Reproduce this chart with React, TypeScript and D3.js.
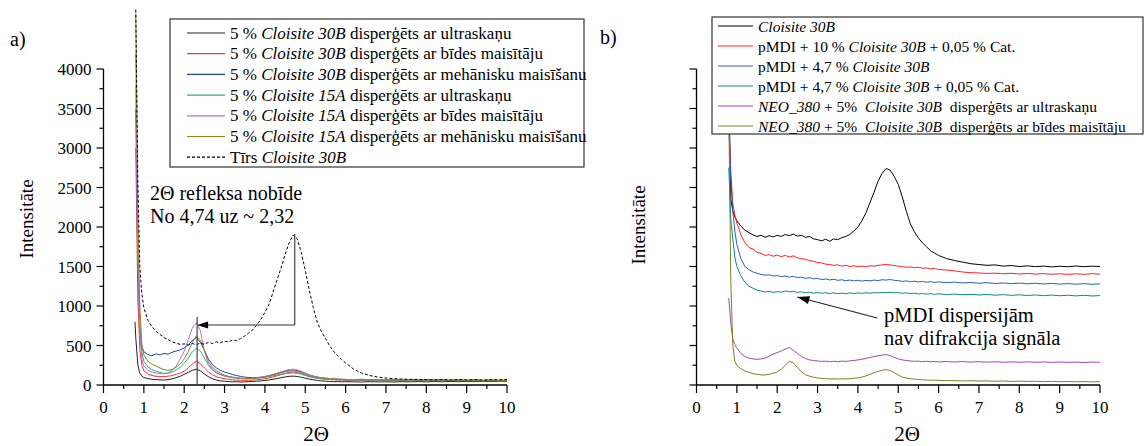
import * as d3 from "d3";

// shared 2Θ grid for every measured curve
const X_GRID = [0.78, 0.8, 0.85, 0.9, 0.95,
  1.0, 1.1, 1.2, 1.3, 1.4, 1.5, 1.6, 1.7, 1.8, 1.9,
  2.0, 2.1, 2.2, 2.3, 2.4, 2.5, 2.6, 2.7, 2.8, 2.9,
  3.0, 3.1, 3.2, 3.3, 3.4, 3.5, 3.6, 3.7, 3.8, 3.9,
  4.0, 4.1, 4.2, 4.3, 4.4, 4.5, 4.6, 4.7, 4.8, 4.9,
  5.0, 5.1, 5.2, 5.3, 5.4, 5.5, 5.6, 5.7, 5.8, 5.9,
  6.0, 6.2, 6.4, 6.6, 6.8, 7.0, 7.2, 7.4, 7.6, 7.8,
  8.0, 8.2, 8.4, 8.6, 8.8, 9.0, 9.2, 9.4, 9.6, 9.8, 10.0];

// a) panel
const A_30B_ULTRA = [800, 600, 260, 150, 115,
  95, 80, 72, 68, 65, 62, 68, 78, 92, 110,
  135, 160, 185, 200, 180, 140, 105, 80, 62, 52,
  48, 44, 40, 42, 38, 40, 42, 45, 48, 52,
  58, 64, 72, 82, 92, 102, 110, 112, 108, 98,
  86, 75, 66, 58, 52, 48, 45, 42, 44, 40,
  42, 40, 38, 42, 39, 41, 38, 42, 40, 43,
  40, 44, 41, 45, 42, 46, 43, 47, 44, 48, 45];
const A_30B_SHEAR = [null, 3000, 1100, 450, 250,
  180, 140, 120, 110, 108, 105, 112, 118, 135, 150,
  175, 215, 265, 300, 270, 215, 165, 130, 105, 90,
  80, 72, 66, 62, 60, 58, 60, 62, 66, 72,
  80, 90, 102, 116, 130, 145, 158, 165, 160, 145,
  125, 108, 95, 85, 78, 72, 68, 66, 64, 62,
  60, 62, 58, 61, 57, 60, 56, 59, 55, 58,
  55, 58, 54, 57, 53, 56, 52, 55, 51, 54, 50];
const A_30B_MECH = [null, 3500, 1500, 700, 480,
  420, 385, 370, 395, 380, 400, 390, 415, 430, 445,
  470, 510, 560, 600, 540, 440, 330, 260, 215, 185,
  165, 148, 132, 120, 108, 100, 95, 92, 95, 100,
  108, 118, 130, 145, 160, 175, 188, 192, 185, 168,
  148, 128, 112, 100, 92, 86, 82, 78, 75, 72,
  70, 68, 72, 66, 70, 65, 68, 63, 67, 62,
  66, 61, 65, 60, 64, 59, 63, 58, 62, 58, 61];
const A_15A_ULTRA = [null, 4200, 1800, 800, 420,
  300, 230, 195, 175, 160, 148, 150, 165, 190, 225,
  275, 340, 420, 465, 430, 340, 250, 190, 150, 128,
  112, 100, 92, 85, 80, 78, 78, 80, 84, 90,
  97, 106, 116, 126, 136, 144, 150, 152, 148, 136,
  120, 105, 94, 86, 80, 75, 72, 69, 67, 65,
  64, 62, 65, 60, 63, 59, 62, 58, 61, 57,
  60, 57, 60, 56, 59, 55, 58, 55, 58, 54, 57];
const A_15A_SHEAR = [null, 3800, 1600, 650, 330,
  240, 185, 165, 152, 145, 142, 150, 185, 240, 330,
  430, 570, 720, 790, 690, 430, 270, 200, 160, 135,
  118, 105, 96, 90, 85, 82, 82, 85, 90, 98,
  108, 120, 134, 150, 166, 182, 195, 200, 192, 174,
  152, 130, 114, 102, 93, 86, 81, 77, 74, 72,
  70, 68, 71, 66, 69, 64, 67, 63, 66, 62,
  65, 61, 64, 60, 63, 59, 62, 58, 61, 57, 60];
const A_15A_MECH = [null, 4700, 2200, 1000, 520,
  380, 300, 265, 240, 215, 195, 185, 195, 225, 265,
  330, 420, 540, 620, 570, 440, 300, 225, 180, 148,
  126, 110, 100, 92, 86, 82, 82, 84, 88, 95,
  104, 114, 126, 140, 154, 166, 175, 178, 172, 158,
  138, 120, 106, 96, 88, 82, 78, 75, 72, 70,
  68, 66, 69, 64, 67, 62, 65, 61, 64, 60,
  63, 59, 62, 58, 61, 57, 60, 56, 59, 55, 58];
const A_PURE_30B = [null, 4750, 2600, 1500, 1150,
  980, 820, 740, 680, 640, 600, 575, 545, 530, 515,
  520, 505, 525, 510, 530, 515, 540, 525, 545, 535,
  555, 545, 570, 560, 590, 620, 660, 700, 760, 830,
  920, 1020, 1170, 1330, 1480, 1650, 1800, 1900, 1850, 1680,
  1450, 1200, 980, 790, 680, 590, 500, 430, 370, 320,
  280, 200, 150, 120, 100, 88, 80, 75, 72, 70,
  68, 66, 70, 64, 68, 65, 70, 63, 68, 66, 70];

const A_SERIES = [A_30B_ULTRA, A_30B_SHEAR, A_30B_MECH, A_15A_ULTRA, A_15A_SHEAR, A_15A_MECH, A_PURE_30B];
const A_COLORS = ["#222222", "#ff3030", "#1a44b0", "#35a89a", "#c070cc", "#8a8a22", "#000000"];
const A_DASHED = [false, false, false, false, false, false, true];
const A_LABELS = [
  [["5 % ", false], ["Cloisite 30B", true], [" disperģēts ar ultraskaņu", false]],
  [["5 % ", false], ["Cloisite 30B", true], [" disperģēts ar bīdes maisītāju", false]],
  [["5 % ", false], ["Cloisite 30B", true], [" disperģēts ar mehānisku maisīšanu", false]],
  [["5 % ", false], ["Cloisite 15A", true], [" disperģēts ar ultraskaņu", false]],
  [["5 % ", false], ["Cloisite 15A", true], [" disperģēts ar bīdes maisītāju", false]],
  [["5 % ", false], ["Cloisite 15A", true], [" disperģēts ar mehānisku maisīšanu", false]],
  [["Tīrs ", false], ["Cloisite 30B", true]],
];

// b) panel
const B_30B = [null, 3800, 2350, 2200, 2130,
  2080, 2010, 1960, 1930, 1900, 1880, 1895, 1870, 1890, 1875,
  1895, 1880, 1905, 1890, 1910, 1885, 1895, 1870, 1880, 1850,
  1840, 1825, 1845, 1820, 1850, 1840, 1865, 1880, 1905, 1950,
  2000, 2080, 2180, 2310, 2440, 2580, 2680, 2740, 2720, 2640,
  2540, 2380, 2200, 2040, 1940, 1860, 1800, 1750, 1700, 1670,
  1640, 1600, 1575, 1555, 1535, 1525, 1515, 1520, 1505, 1512,
  1500, 1508, 1498, 1505, 1495, 1503, 1497, 1506, 1498, 1504, 1500];
const B_PMDI_10 = [null, 3400, 2700, 2300, 2150,
  2050, 1900, 1800, 1740, 1720, 1680, 1665, 1640, 1650, 1630,
  1645, 1625, 1640, 1620, 1635, 1610, 1600, 1590, 1575, 1565,
  1550, 1545, 1530, 1525, 1515, 1520, 1505, 1515, 1500, 1510,
  1498, 1505, 1495, 1510, 1505, 1515, 1520, 1525, 1520, 1512,
  1505, 1500, 1490, 1495, 1485, 1490, 1478, 1482, 1470, 1475,
  1462, 1455, 1445, 1430, 1422, 1418, 1412, 1416, 1408, 1414,
  1405, 1412, 1404, 1410, 1402, 1408, 1400, 1407, 1401, 1409, 1404];
const B_PMDI_47 = [null, 3300, 2600, 2200, 1950,
  1780, 1600, 1500, 1460, 1430, 1415, 1400, 1390, 1395, 1380,
  1385, 1372, 1380, 1365, 1375, 1360, 1365, 1350, 1358, 1345,
  1350, 1335, 1342, 1330, 1338, 1325, 1332, 1320, 1328, 1318,
  1326, 1315, 1324, 1318, 1328, 1322, 1332, 1328, 1335, 1325,
  1320, 1312, 1318, 1308, 1314, 1305, 1310, 1302, 1308, 1298,
  1305, 1296, 1302, 1292, 1298, 1288, 1295, 1285, 1292, 1283,
  1290, 1281, 1288, 1279, 1286, 1277, 1284, 1276, 1283, 1275, 1280];
const B_PMDI_47_CAT = [null, 2750, 2100, 1850, 1620,
  1500, 1380, 1300, 1250, 1225, 1200, 1190, 1178, 1185, 1172,
  1182, 1175, 1190, 1180, 1186, 1172, 1180, 1168, 1176, 1162,
  1172, 1160, 1168, 1158, 1166, 1155, 1164, 1156, 1165, 1158,
  1166, 1160, 1168, 1162, 1170, 1165, 1172, 1168, 1174, 1166,
  1170, 1160, 1166, 1156, 1162, 1152, 1158, 1150, 1156, 1147,
  1154, 1145, 1151, 1142, 1148, 1139, 1146, 1137, 1144, 1135,
  1142, 1133, 1140, 1131, 1138, 1130, 1136, 1128, 1135, 1127, 1132];
const B_NEO_ULTRA = [null, 1100, 780, 580, 510,
  470, 400, 360, 340, 330, 325, 330, 340, 365, 390,
  410, 430, 455, 475, 440, 400, 360, 335, 318, 310,
  305, 298, 302, 295, 300, 294, 302, 298, 306, 310,
  318, 326, 338, 348, 360, 370, 378, 385, 372, 350,
  330, 318, 310, 305, 300, 302, 296, 300, 294, 298,
  292, 297, 291, 296, 290, 295, 289, 294, 288, 293,
  288, 293, 287, 292, 286, 291, 286, 290, 285, 290, 288];
const B_NEO_SHEAR = [null, 3500, 1300, 500, 300,
  250, 205, 178, 160, 145, 135, 128, 127, 135, 150,
  165, 200, 250, 300, 280, 220, 170, 130, 112, 98,
  90, 84, 80, 76, 78, 74, 80, 76, 80, 84,
  90, 100, 115, 135, 155, 172, 186, 195, 182, 158,
  125, 100, 88, 80, 74, 70, 66, 63, 60, 62,
  58, 56, 55, 52, 54, 50, 52, 48, 50, 46,
  48, 45, 47, 43, 46, 42, 44, 41, 43, 40, 42];

const B_SERIES = [B_30B, B_PMDI_10, B_PMDI_47, B_PMDI_47_CAT, B_NEO_ULTRA, B_NEO_SHEAR];
const B_COLORS = ["#000000", "#ff2020", "#2a5cc8", "#0a8a82", "#a048b0", "#7f8024"];
const B_DASHED = [false, false, false, false, false, false];
const B_LABELS = [
  [["Cloisite 30B", true]],
  [["pMDI + 10 % ", false], ["Cloisite 30B", true], [" + 0,05 % Cat.", false]],
  [["pMDI + 4,7 % ", false], ["Cloisite 30B", true]],
  [["pMDI + 4,7 % ", false], ["Cloisite 30B", true], [" + 0,05 % Cat.", false]],
  [["NEO_380", true], [" + 5%  ", false], ["Cloisite 30B", true], ["  disperģēts ar ultraskaņu", false]],
  [["NEO_380", true], [" + 5%  ", false], ["Cloisite 30B", true], ["  disperģēts ar bīdes maisītāju", false]],
];

const X_TICKS = [0, 1, 2, 3, 4, 5, 6, 7, 8, 9, 10];
const X_MINOR = [0.5, 1.5, 2.5, 3.5, 4.5, 5.5, 6.5, 7.5, 8.5, 9.5];
const Y_TICKS = [0, 500, 1000, 1500, 2000, 2500, 3000, 3500, 4000];
const Y_MINOR = [250, 750, 1250, 1750, 2250, 2750, 3250, 3750];

const FONT = "Liberation Serif, DejaVu Serif, serif";
const TXT = { fontFamily: FONT };

function Label({ segs }) {
  return (
    <>
      {segs.map((s, i) => (
        <tspan key={i} style={{ fontStyle: s[1] ? "italic" : "normal" }}>{s[0]}</tspan>
      ))}
    </>
  );
}

function arrowHead(x1, y1, x2, y2, len = 11, half = 4) {
  const dx = x2 - x1, dy = y2 - y1;
  const d = Math.sqrt(dx * dx + dy * dy);
  const ux = dx / d, uy = dy / d;
  const bx = x2 - ux * len, by = y2 - uy * len;
  return `${x2},${y2} ${bx - uy * half},${by + ux * half} ${bx + uy * half},${by - ux * half}`;
}

function Panel({ left, right, series, colors, dashed, showYLabels }) {
  const x = d3.scaleLinear().domain([0, 10]).range([left, right]);
  const y = d3.scaleLinear().domain([0, 4000]).range([385, 69]);
  const line = d3.line()
    .defined((d) => d[1] != null)
    .x((d) => x(d[0]))
    .y((d) => y(d[1]));

  return (
    <g>
      {series.map((s, i) => (
        <path key={i}
          d={line(X_GRID.map((g, j) => [g, s[j]]))}
          fill="none"
          stroke={colors[i]}
          strokeWidth={1}
          strokeDasharray={dashed[i] ? "3,2" : null}
          strokeLinejoin="round" />
      ))}
      {/* axes */}
      <line x1={x(0)} x2={x(10)} y1={y(0)} y2={y(0)} stroke="#000" strokeWidth={1.3} />
      <line x1={x(0)} x2={x(0)} y1={y(0)} y2={y(4000)} stroke="#000" strokeWidth={1.3} />
      {X_TICKS.map((t) => (
        <g key={"x" + t}>
          <line x1={x(t)} x2={x(t)} y1={y(0)} y2={y(0) + 8} stroke="#000" strokeWidth={1.2} />
          <text x={x(t)} y={413} textAnchor="middle" fontSize={17} style={TXT}>{t}</text>
        </g>
      ))}
      {X_MINOR.map((t) => (
        <line key={"xm" + t} x1={x(t)} x2={x(t)} y1={y(0)} y2={y(0) + 4} stroke="#000" strokeWidth={1.2} />
      ))}
      {Y_TICKS.map((t) => (
        <g key={"y" + t}>
          <line x1={x(0) - 7} x2={x(0)} y1={y(t)} y2={y(t)} stroke="#000" strokeWidth={1.2} />
          {showYLabels && (
            <text x={x(0) - 12} y={y(t) + 6} textAnchor="end" fontSize={17} style={TXT}>{t}</text>
          )}
        </g>
      ))}
      {Y_MINOR.map((t) => (
        <line key={"ym" + t} x1={x(0) - 4} x2={x(0)} y1={y(t)} y2={y(t)} stroke="#000" strokeWidth={1.2} />
      ))}
    </g>
  );
}

function Legend({ x0, y0, w, h, rowY, step, lineX1, lineX2, textX, labels, colors, dashed, fontSize }) {
  return (
    <g>
      <rect x={x0} y={y0} width={w} height={h} fill="#fff" stroke="#333" strokeWidth={1.2} />
      {labels.map((l, i) => {
        const cy = rowY + i * step;
        return (
          <g key={i}>
            <line x1={lineX1} x2={lineX2} y1={cy} y2={cy} stroke={colors[i]} strokeWidth={1.2}
              strokeDasharray={dashed[i] ? "3,2" : null} />
            <text x={textX} y={cy + 5.5} fontSize={fontSize} xmlSpace="preserve"
              style={{ ...TXT, whiteSpace: "pre" }}>
              <Label segs={l} />
            </text>
          </g>
        );
      })}
    </g>
  );
}

export default function App() {
  // scales for annotation placement
  const xa = d3.scaleLinear().domain([0, 10]).range([103.5, 507]);
  const xb = d3.scaleLinear().domain([0, 10]).range([696.5, 1100]);
  const y = d3.scaleLinear().domain([0, 4000]).range([385, 69]);

  const bTail = [xb(4.48), y(848)];
  const bTip = [xb(2.5), y(1114)];

  return (
    <svg width={1144} height={446} style={{ position: "absolute", left: 0, top: 0, background: "#fff", ...TXT }}>
      {/* a) */}
      <text x={10} y={46} fontSize={20} style={TXT}>a)</text>
      <text transform="translate(33,219) rotate(-90)" textAnchor="middle" fontSize={19} style={TXT}>Intensitāte</text>
      <text x={316} y={441} textAnchor="middle" fontSize={21} style={TXT}>2Θ</text>
      <Panel left={103.5} right={507} series={A_SERIES} colors={A_COLORS} dashed={A_DASHED} showYLabels={true} />
      {/* shift annotation */}
      <line x1={xa(4.74)} x2={xa(4.74)} y1={y(1910)} y2={y(760)} stroke="#333" strokeWidth={1.1} />
      <line x1={xa(4.74)} x2={xa(2.32) + 8} y1={y(760)} y2={y(760)} stroke="#333" strokeWidth={1.1} />
      <polygon points={arrowHead(xa(4.74), y(760), xa(2.32), y(760), 11, 3.5)} fill="#000" />
      <line x1={xa(2.32)} x2={xa(2.32)} y1={y(860)} y2={y(0)} stroke="#333" strokeWidth={1.1} />
      <text x={150} y={200} fontSize={20} style={TXT}>2Θ refleksa nobīde</text>
      <text x={150} y={223} fontSize={20} style={TXT}>No 4,74 uz ~ 2,32</text>
      <Legend x0={170} y0={19} w={414} h={148} rowY={33} step={20.7} lineX1={187} lineX2={225} textX={230}
        labels={A_LABELS} colors={A_COLORS} dashed={A_DASHED} fontSize={17} />

      {/* b) */}
      <text x={600} y={44} fontSize={20} style={TXT}>b)</text>
      <text transform="translate(645,225) rotate(-90)" textAnchor="middle" fontSize={19} style={TXT}>Intensitāte</text>
      <text x={907} y={441} textAnchor="middle" fontSize={21} style={TXT}>2Θ</text>
      <Panel left={696.5} right={1100} series={B_SERIES} colors={B_COLORS} dashed={B_DASHED} showYLabels={false} />
      <line x1={bTail[0]} y1={bTail[1]} x2={bTip[0]} y2={bTip[1]} stroke="#222" strokeWidth={1.1} />
      <polygon points={arrowHead(bTail[0], bTail[1], bTip[0], bTip[1], 12, 4)} fill="#000" />
      <text x={884} y={322} fontSize={20.5} style={TXT}>pMDI dispersijām</text>
      <text x={884} y={345} fontSize={20.5} style={TXT}>nav difrakcija signāla</text>
      <Legend x0={712} y0={17} w={431} h={117} rowY={26} step={20} lineX1={718} lineX2={753} textX={758}
        labels={B_LABELS} colors={B_COLORS} dashed={B_DASHED} fontSize={15.5} />
    </svg>
  );
}
